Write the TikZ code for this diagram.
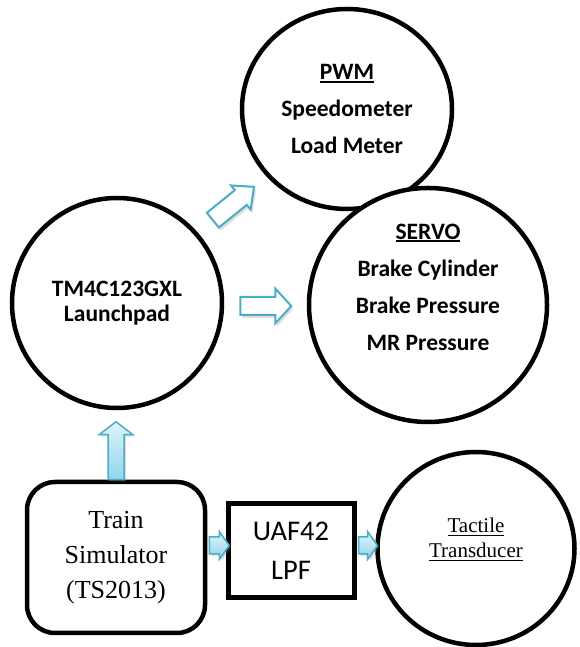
\documentclass[tikz,border=0pt]{standalone}
\usepackage{fontspec}
\setmainfont{Liberation Serif}
\newfontfamily\calibfont{Carlito}
\usetikzlibrary{shapes.geometric, shadows, calc}
\definecolor{myteal}{RGB}{75,172,198}
\definecolor{lightfill}{RGB}{222,245,252}
\definecolor{darkfill}{RGB}{145,212,236}
% underlined word with a rule of given thickness
\newcommand{\ulword}[3]{\setbox0\hbox{#1}\rlap{\raisebox{-#3}{\rule{\wd0}{#2}}}\box0}
% block arrow: style, start, angle, length, shaft half width, head half width, head length
\newcommand{\blockarrow}[7]{%
  \draw[#1, shift={#2}, rotate=#3]
    (0,{-#5}) -- ({#4-#7},{-#5}) -- ({#4-#7},{-#6}) -- (#4,0)
    -- ({#4-#7},#6) -- ({#4-#7},#5) -- (0,#5) -- cycle;}
\tikzset{
  bigcircle/.style={ellipse, draw=black, line width=4.5pt, fill=white, inner sep=0pt},
  circtext/.style={align=center, font=\calibfont\bfseries\fontsize{23.5}{37}\selectfont},
  simbox/.style={rectangle, draw=black, line width=4.5pt, rounded corners=28pt,
    minimum width=178pt, minimum height=151pt, align=center,
    font=\fontsize{26}{35}\selectfont},
  filterbox/.style={rectangle, draw=black, line width=5pt,
    minimum width=126pt, minimum height=94pt, align=center,
    font=\calibfont\fontsize{28.5}{39}\selectfont},
  hollowarrow/.style={draw=myteal, line width=2pt, fill=white, line join=miter,
    drop shadow={opacity=0.25, shadow xshift=2pt, shadow yshift=-3pt}},
  filledarrow/.style={draw=myteal, line width=1.5pt, top color=lightfill,
    bottom color=darkfill, line join=miter,
    drop shadow={opacity=0.25, shadow xshift=2pt, shadow yshift=-2pt}}
}
\begin{document}
\begin{tikzpicture}[x=1pt, y=1pt]
  \useasboundingbox (0,0) rectangle (579,647);
  % circles
  \node[bigcircle, minimum width=210pt, minimum height=200pt, circtext] (pwm) at (347,538)
    {\ulword{PWM}{2pt}{3pt}\\Speedometer\\Load Meter};
  \node[bigcircle, minimum width=238pt, minimum height=234pt] (servo) at (428,342) {};
  \node[circtext] (servotxt) at ([yshift=18pt]servo.center)
    {\ulword{SERVO}{2pt}{3pt}\\Brake Cylinder\\Brake Pressure\\MR Pressure};
  \node[bigcircle, minimum size=210pt, circtext, font=\calibfont\bfseries\fontsize{23.5}{25}\selectfont] (lp) at (117,344)
    {TM4C123GXL\\Launchpad};
  \node[bigcircle, minimum width=197pt, minimum height=193pt] (tact) at (476,98.5) {};
  \node[align=center, font=\fontsize{21}{25}\selectfont] (tacttxt) at ([yshift=9pt]tact.center)
    {\ulword{Tactile}{0.9pt}{3pt}\\\ulword{Transducer}{0.9pt}{3pt}};
  % boxes
  \node[simbox] (sim) at (116,89.5) {Train\\Simulator\\(TS2013)};
  \node[filterbox] (uaf) at (291,96) {UAF42\\LPF};
  % arrows
  \blockarrow{hollowarrow}{($(lp.45)+(20,7)$)}{39}{53}{9.5}{15.5}{17}
  \blockarrow{hollowarrow}{($(lp.east)+(16,-3)$)}{0}{51}{9}{17.5}{16}
  \blockarrow{filledarrow}{(sim.north)}{90}{58}{8}{17}{13}
  \blockarrow{filledarrow}{($(sim.east)+(2,12)$)}{0}{20}{8.5}{14}{10}
  \blockarrow{filledarrow}{($(uaf.east)+(2,5.5)$)}{0}{19}{8.5}{14}{10}
\end{tikzpicture}
\end{document}
